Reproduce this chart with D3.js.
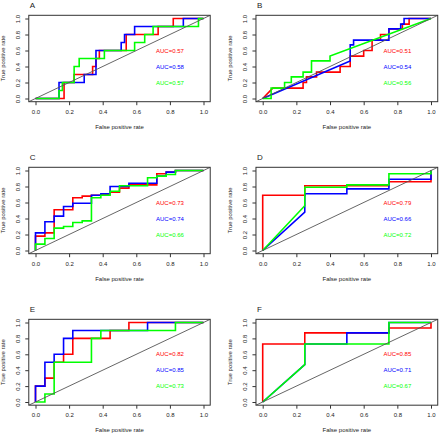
<!DOCTYPE html>
<html>
<head>
<meta charset="utf-8">
<script src="https://cdn.jsdelivr.net/npm/d3@7"></script>
<style>
  html, body { margin: 0; padding: 0; background: #fff; }
  svg { display: block; font-family: "Liberation Sans", Arial, sans-serif; }
</style>
</head>
<body>
<svg id="chart" width="440" height="435"></svg>
<script>
// ---- data ----
const panelLetters = ["A", "B", "C", "D", "E", "F"];
const tickValues = [0, 0.2, 0.4, 0.6, 0.8, 1.0];
const tickLabels = ["0.0", "0.2", "0.4", "0.6", "0.8", "1.0"];
const seriesColors = ["#ff0000", "#0000ff", "#00ff00"];

const aucA = ["AUC=0.57", "AUC=0.58", "AUC=0.57"];
const aucB = ["AUC=0.51", "AUC=0.54", "AUC=0.56"];
const aucC = ["AUC=0.73", "AUC=0.74", "AUC=0.66"];
const aucD = ["AUC=0.79", "AUC=0.66", "AUC=0.72"];
const aucE = ["AUC=0.82", "AUC=0.85", "AUC=0.73"];
const aucF = ["AUC=0.85", "AUC=0.71", "AUC=0.67"];

// ROC curves: [false positive rate, true positive rate]
const rocA_red = [[0,0],[0.17,0],[0.17,0.2],[0.23,0.2],[0.23,0.3],[0.34,0.3],[0.34,0.4],[0.36,0.4],[0.36,0.5],[0.38,0.5],[0.38,0.6],[0.54,0.6],[0.54,0.8],[0.73,0.8],[0.73,0.9],[0.82,0.9],[0.82,1],[1,1]];
const rocA_blue = [[0,0],[0.14,0],[0.14,0.2],[0.29,0.2],[0.29,0.3],[0.36,0.3],[0.36,0.6],[0.51,0.6],[0.51,0.7],[0.53,0.7],[0.53,0.8],[0.59,0.8],[0.59,0.9],[0.88,0.9],[0.88,1],[1,1]];
const rocA_green = [[0,0],[0.14,0],[0.14,0.1],[0.16,0.1],[0.16,0.2],[0.23,0.2],[0.23,0.4],[0.26,0.4],[0.26,0.5],[0.41,0.5],[0.41,0.6],[0.59,0.6],[0.59,0.7],[0.65,0.7],[0.65,0.8],[0.7,0.8],[0.7,0.9],[0.97,0.9],[0.97,1],[1,1]];

const rocB_red = [[0,0],[0.06,0.13],[0.24,0.13],[0.24,0.2],[0.26,0.2],[0.26,0.27],[0.32,0.27],[0.32,0.33],[0.46,0.33],[0.46,0.4],[0.52,0.4],[0.52,0.53],[0.6,0.53],[0.6,0.6],[0.65,0.6],[0.65,0.73],[0.7,0.73],[0.7,0.8],[0.75,0.8],[0.75,0.87],[0.83,0.87],[0.83,0.93],[0.87,0.93],[0.87,1],[1,1]];
const rocB_blue = [[0,0],[0.52,0.47],[0.52,0.67],[0.54,0.67],[0.54,0.73],[0.75,0.73],[0.75,0.87],[0.82,0.87],[0.82,0.93],[0.84,0.93],[0.84,1],[1,1]];
const rocB_green = [[0,0],[0.05,0],[0.05,0.13],[0.13,0.13],[0.13,0.2],[0.17,0.2],[0.17,0.27],[0.24,0.27],[0.24,0.33],[0.29,0.33],[0.29,0.47],[0.4,0.47],[0.4,0.53],[1,1]];

const rocC_red = [[0,0],[0,0.18],[0.056,0.18],[0.056,0.22],[0.111,0.22],[0.111,0.51],[0.222,0.51],[0.222,0.66],[0.278,0.66],[0.278,0.68],[0.333,0.68],[0.333,0.69],[0.389,0.69],[0.389,0.7],[0.444,0.7],[0.444,0.73],[0.5,0.73],[0.5,0.78],[0.556,0.78],[0.556,0.82],[0.722,0.82],[0.722,0.96],[0.778,0.96],[0.778,0.98],[0.833,0.98],[0.833,1],[1,1]];
const rocC_blue = [[0,0],[0,0.22],[0.056,0.22],[0.056,0.36],[0.111,0.36],[0.111,0.43],[0.167,0.43],[0.167,0.55],[0.222,0.55],[0.222,0.59],[0.333,0.59],[0.333,0.69],[0.389,0.69],[0.389,0.71],[0.444,0.71],[0.444,0.8],[0.556,0.8],[0.556,0.84],[0.722,0.84],[0.722,0.93],[0.778,0.93],[0.778,0.98],[0.833,0.98],[0.833,1],[1,1]];
const rocC_green = [[0,0],[0,0.08],[0.056,0.08],[0.056,0.15],[0.111,0.15],[0.111,0.28],[0.167,0.28],[0.167,0.3],[0.222,0.3],[0.222,0.35],[0.278,0.35],[0.278,0.37],[0.333,0.37],[0.333,0.66],[0.389,0.66],[0.389,0.69],[0.444,0.69],[0.444,0.74],[0.5,0.74],[0.5,0.81],[0.667,0.81],[0.667,0.91],[0.722,0.91],[0.722,0.93],[0.778,0.93],[0.778,0.95],[0.833,0.95],[0.833,1],[1,1]];

const rocD_red = [[0,0],[0,0.69],[0.25,0.69],[0.25,0.81],[0.75,0.81],[0.75,0.86],[1,0.86],[1,1]];
const rocD_blue = [[0,0],[0.25,0.48],[0.25,0.71],[0.5,0.71],[0.5,0.77],[0.75,0.77],[0.75,0.89],[1,0.89],[1,1]];
const rocD_green = [[0,0],[0.25,0.56],[0.25,0.79],[0.5,0.79],[0.5,0.82],[0.75,0.82],[0.75,0.96],[1,0.96],[1,1]];

const rocE_red = [[0,0],[0,0.2],[0.056,0.2],[0.056,0.3],[0.111,0.3],[0.111,0.5],[0.167,0.5],[0.167,0.6],[0.222,0.6],[0.222,0.8],[0.444,0.8],[0.444,0.9],[0.556,0.9],[0.556,1],[1,1]];
const rocE_blue = [[0,0],[0,0.2],[0.056,0.2],[0.056,0.5],[0.111,0.5],[0.111,0.6],[0.167,0.6],[0.167,0.8],[0.222,0.8],[0.222,0.9],[0.667,0.9],[0.667,1],[1,1]];
const rocE_green = [[0,0],[0.056,0],[0.056,0.1],[0.111,0.1],[0.111,0.5],[0.333,0.5],[0.333,0.8],[0.389,0.8],[0.389,0.9],[0.833,0.9],[0.833,1],[1,1]];

const rocF_red = [[0,0],[0,0.73],[0.25,0.73],[0.25,0.87],[0.75,0.87],[0.75,0.93],[1,0.93],[1,1]];
const rocF_blue = [[0,0],[0.25,0.47],[0.25,0.73],[0.5,0.73],[0.5,0.87],[0.75,0.87],[0.75,1],[1,1]];
const rocF_green = [[0,0],[0.25,0.47],[0.25,0.73],[0.75,0.73],[0.75,1],[1,1]];

const panelCurves = [
  [rocA_red, rocA_blue, rocA_green],
  [rocB_red, rocB_blue, rocB_green],
  [rocC_red, rocC_blue, rocC_green],
  [rocD_red, rocD_blue, rocD_green],
  [rocE_red, rocE_blue, rocE_green],
  [rocF_red, rocF_blue, rocF_green]
];
const panelAuc = [aucA, aucB, aucC, aucD, aucE, aucF];
const aucY = [0.6, 0.4, 0.2];
const aucX = 0.8;

// ---- layout (pixel positions of 0 and 1 on each axis) ----
const colPix = [[35.5, 203.5], [262.7, 431]];
const rowPix = [[98.5, 18.5], [250.5, 170.5], [402, 322.5]];

const svg = d3.select("#chart");
const FONT = 6;

panelLetters.forEach((letter, i) => {
  const col = i % 2, row = Math.floor(i / 2);
  const x = d3.scaleLinear().domain([0, 1]).range(colPix[col]);
  const y = d3.scaleLinear().domain([0, 1]).range(rowPix[row]);
  const left = x(-0.04), right = x(1.04), top = y(1.04), bottom = y(-0.04);
  const g = svg.append("g");
  const clipId = "clip" + i;
  g.append("clipPath").attr("id", clipId)
    .append("rect").attr("x", left).attr("y", top)
    .attr("width", right - left).attr("height", bottom - top);

  const plot = g.append("g").attr("clip-path", `url(#${clipId})`);
  const line = d3.line().x(d => x(d[0])).y(d => y(d[1]));

  panelCurves[i].forEach((curve, k) => {
    plot.append("path").datum(curve)
      .attr("d", line)
      .attr("fill", "none")
      .attr("stroke", seriesColors[k])
      .attr("stroke-width", 1.6)
      .attr("stroke-linejoin", "miter");
  });

  // diagonal reference line
  plot.append("path").datum([[-0.04, -0.04], [1.04, 1.04]])
    .attr("d", line).attr("fill", "none")
    .attr("stroke", "#555").attr("stroke-width", 0.9);

  // box
  g.append("rect").attr("x", left).attr("y", top)
    .attr("width", right - left).attr("height", bottom - top)
    .attr("fill", "none").attr("stroke", "#333").attr("stroke-width", 1);

  // x axis
  const xa = g.append("g").attr("transform", `translate(0,${bottom})`)
    .call(d3.axisBottom(x).tickValues(tickValues)
      .tickFormat((d, j) => tickLabels[j]).tickSize(3.5).tickSizeOuter(0));
  xa.select(".domain").remove();
  xa.selectAll(".tick line").attr("stroke", "#333");
  xa.selectAll(".tick text").attr("y", 12.2).attr("dy", null)
    .attr("font-size", FONT).attr("fill", "#222")
    .attr("font-family", "Liberation Sans, Arial, sans-serif");

  // y axis
  const ya = g.append("g").attr("transform", `translate(${left},0)`)
    .call(d3.axisLeft(y).tickValues(tickValues)
      .tickFormat((d, j) => tickLabels[j]).tickSize(3.5).tickSizeOuter(0));
  ya.select(".domain").remove();
  ya.selectAll(".tick line").attr("stroke", "#333");
  ya.selectAll(".tick text").attr("x", null).attr("dy", null)
    .attr("text-anchor", "middle")
    .attr("transform", "translate(-8.8,0) rotate(-90)")
    .attr("font-size", FONT).attr("fill", "#222")
    .attr("font-family", "Liberation Sans, Arial, sans-serif");

  // axis titles
  g.append("text").attr("x", (left + right) / 2).attr("y", bottom + 27.3)
    .attr("text-anchor", "middle").attr("font-size", FONT).attr("fill", "#222")
    .text("False positive rate");
  g.append("text")
    .attr("transform", `translate(${left - 23.8},${(top + bottom) / 2}) rotate(-90)`)
    .attr("text-anchor", "middle").attr("font-size", FONT).attr("fill", "#222")
    .text("True positive rate");

  // panel letter
  g.append("text").attr("x", left + 1).attr("y", top - 7.5)
    .attr("font-size", 8).attr("fill", "#222").text(letter);

  // AUC labels
  panelAuc[i].forEach((t, k) => {
    g.append("text").attr("x", x(aucX)).attr("y", y(aucY[k]))
      .attr("dy", "0.35em").attr("text-anchor", "middle")
      .attr("font-size", FONT).attr("fill", seriesColors[k]).text(t);
  });
});
</script>
</body>
</html>
